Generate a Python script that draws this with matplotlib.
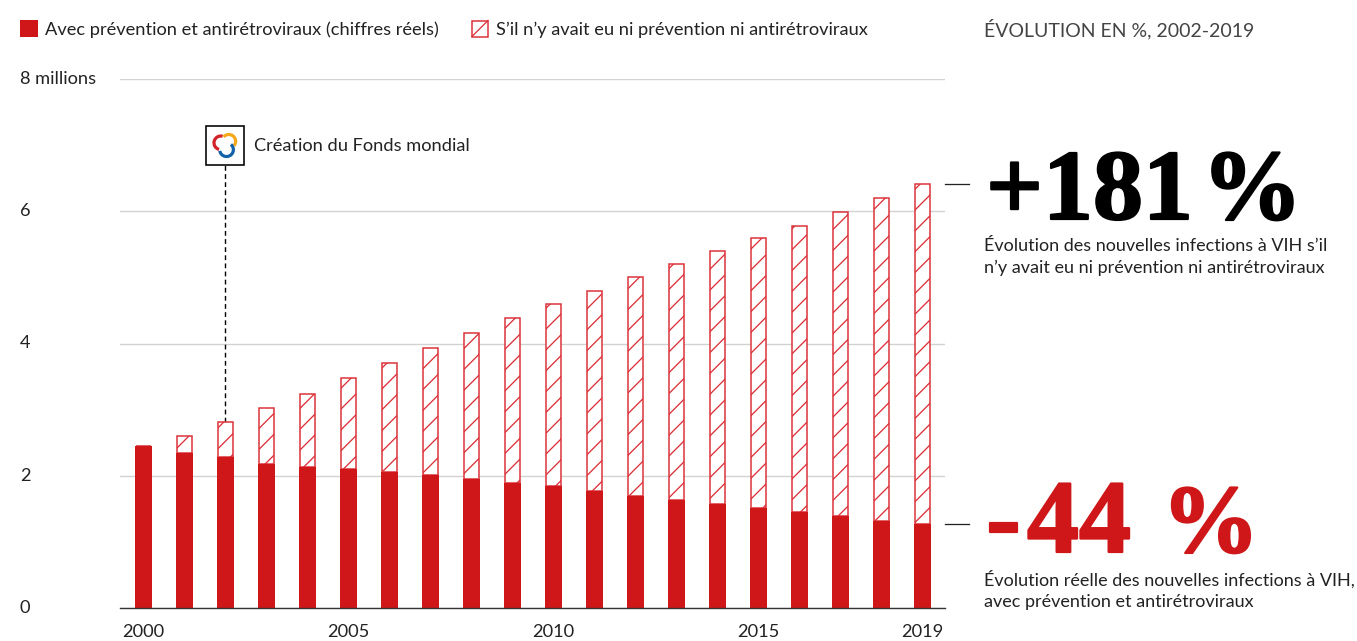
import matplotlib
matplotlib.use('Agg')
from matplotlib import pyplot as plt
from matplotlib.patches import Rectangle, Arc
from matplotlib.lines import Line2D
import matplotlib.patheffects as pe

years = list(range(2000, 2020))
# nouvelles infections, en millions
reel = [2.45, 2.34, 2.28, 2.18, 2.13, 2.10, 2.06, 2.01, 1.95, 1.89,
        1.84, 1.77, 1.69, 1.63, 1.57, 1.51, 1.45, 1.39, 1.31, 1.27]
sans_prevention = [2.45, 2.60, 2.81, 3.02, 3.24, 3.48, 3.71, 3.93, 4.16, 4.39,
                   4.60, 4.80, 5.00, 5.20, 5.40, 5.60, 5.78, 5.99, 6.20, 6.41]
x_ticks = [2000, 2005, 2010, 2015, 2019]
y_ticks = [0, 2, 4, 6, 8]
y_labels = ['0', '2', '4', '6', '8 millions']

ROUGE = '#cf1719'
ROUGE_CLAIR = '#dc3038'
TEXTE = '#222222'
W, H, DPI = 1357, 641, 125

plt.rcParams['font.family'] = ['Lato', 'DejaVu Sans']
plt.rcParams['hatch.linewidth'] = 0.75
plt.rcParams['hatch.color'] = ROUGE_CLAIR

fig = plt.figure(figsize=(W / DPI, H / DPI), dpi=DPI)


def fx(px):
    return px / W


def fy(py):
    return 1 - py / H


def pts(px):
    return px * 72 / DPI


TAILLE = pts(18.3)

ax = fig.add_axes([fx(120), fy(608), fx(945 - 120), fy(79) - fy(608)])
ax.set_xlim(1999.427, 2019.55)
ax.set_ylim(0, 8)

ax.bar(years, [s - r for s, r in zip(sans_prevention, reel)], bottom=reel, width=0.38,
       facecolor='white', edgecolor=ROUGE_CLAIR, hatch='//', linewidth=pts(1.5), zorder=2)
ax.bar(years, reel, width=0.41, color=ROUGE, linewidth=0, zorder=3)

ax.grid(axis='y', color='#d2d2d2', linewidth=pts(1.4), zorder=0)
ax.set_axisbelow(True)
for side in ['top', 'left', 'right']:
    ax.spines[side].set_visible(False)
ax.spines['bottom'].set_color('#333333')
ax.spines['bottom'].set_linewidth(pts(1.4))
ax.spines['bottom'].set_zorder(4)

ax.set_xticks(x_ticks)
ax.set_yticks(y_ticks)
ax.set_yticklabels(y_labels, ha='left', va='center')
ax.tick_params(axis='x', length=0, pad=pts(16), labelsize=TAILLE, labelcolor=TEXTE)
ax.tick_params(axis='y', length=0, pad=pts(100), labelsize=TAILLE, labelcolor=TEXTE)

# ligne pointillee vers 2002
ax.plot([2002, 2002], [sans_prevention[2], 6.72], color='black', linewidth=pts(1.4),
        linestyle=(0, (3.4, 2.4)), zorder=1)

# petits traits a droite, aux valeurs de 2019
for v in [sans_prevention[-1], reel[-1]]:
    ax.plot([2019.55, 2020.14], [v, v], color='#222222', linewidth=pts(1.3), clip_on=False)

# legende
fig.add_artist(Rectangle((fx(20), fy(37)), fx(18), fy(20) - fy(37), transform=fig.transFigure,
                         facecolor=ROUGE, edgecolor='none'))
fig.add_artist(Rectangle((fx(472), fy(36.5)), fx(16), fy(20.5) - fy(36.5), transform=fig.transFigure,
                         facecolor='white', edgecolor=ROUGE_CLAIR, linewidth=pts(1.5)))
fig.add_artist(Line2D([fx(472), fx(488)], [fy(36.5), fy(20.5)], transform=fig.transFigure,
                      color=ROUGE_CLAIR, linewidth=pts(1.3)))
fig.text(fx(45), fy(30), 'Avec prévention et antirétroviraux (chiffres réels)',
         fontsize=TAILLE, color=TEXTE, va='center')
fig.text(fx(496), fy(30), 'S’il n’y avait eu ni prévention ni antirétroviraux',
         fontsize=TAILLE, color=TEXTE, va='center')
fig.text(fx(984), fy(29.5), 'ÉVOLUTION EN %, 2002-2019', fontsize=pts(19.5), color='#444444', va='center')

# logo du Fonds mondial
logo = fig.add_axes([fx(206), fy(164.5), fx(38), fy(126.5) - fy(164.5)])
logo.set_xlim(-1, 1)
logo.set_ylim(-1, 1)
logo.axis('off')
logo.add_patch(Rectangle((-1, -1), 2, 2, facecolor='white', edgecolor='black',
                         linewidth=pts(1.6), clip_on=False))
for centre, theta, couleur in [((-0.22, 0.14), (75, 255), '#d2232a'),
                               ((0.2, 0.22), (-40, 140), '#f5a81c'),
                               ((0.08, -0.22), (190, 50), '#1261a9')]:
    logo.add_patch(Arc(centre, 0.72, 0.72, theta1=theta[0], theta2=theta[1],
                       color=couleur, linewidth=pts(3.2)))
fig.text(fx(254), fy(146), 'Création du Fonds mondial', fontsize=pts(18.3), color=TEXTE, va='center')

# chiffres a droite
for x, y, txt, taille, couleur in [(986, 219, '+181', 100, 'black'),
                                   (1202, 219, '%', 100, 'black'),
                                   (986, 552, '-', 106, ROUGE),
                                   (1027, 552, '44', 104, ROUGE),
                                   (1162, 552, '%', 97, ROUGE)]:
    fig.text(fx(x), fy(y), txt, family='Liberation Serif', fontweight='bold', fontsize=pts(taille),
             color=couleur, va='baseline',
             path_effects=[pe.withStroke(linewidth=pts(2.2), foreground=couleur)])
fig.text(fx(984), fy(246), 'Évolution des nouvelles infections à VIH s’il', fontsize=pts(18), color=TEXTE, va='center')
fig.text(fx(984), fy(268), 'n’y avait eu ni prévention ni antirétroviraux', fontsize=pts(18), color=TEXTE, va='center')
fig.text(fx(984), fy(579), 'Évolution réelle des nouvelles infections à VIH,', fontsize=pts(18), color=TEXTE, va='center')
fig.text(fx(984), fy(602), 'avec prévention et antirétroviraux', fontsize=pts(18), color=TEXTE, va='center')

fig.savefig('out.png', dpi=DPI)
